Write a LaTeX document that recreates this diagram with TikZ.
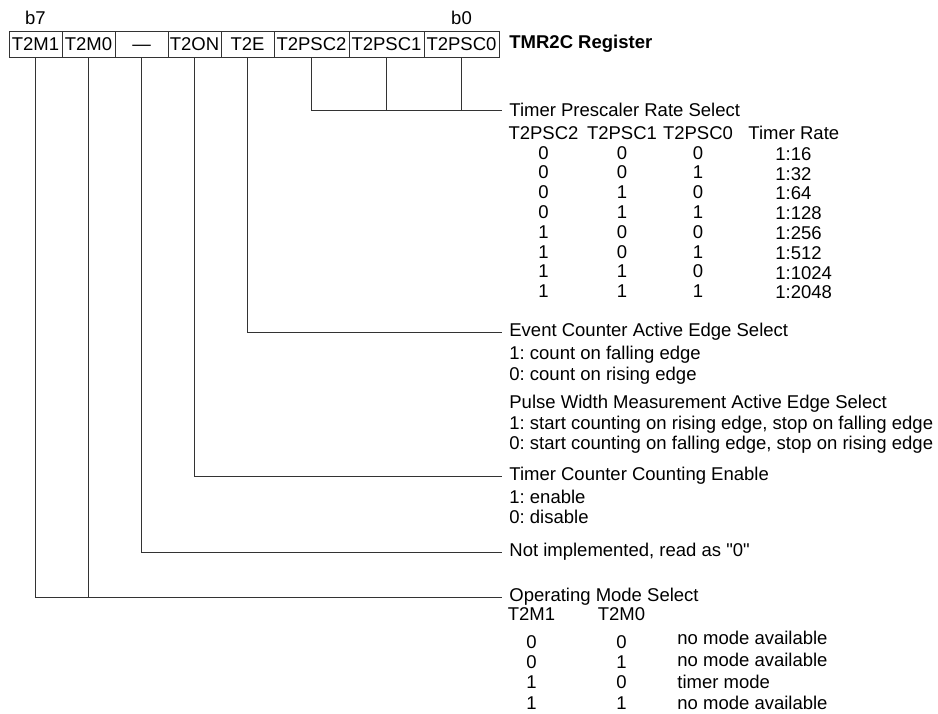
\documentclass[tikz,border=0pt]{standalone}
\usepackage{fontspec}
\setmainfont{Liberation Sans}
\usetikzlibrary{positioning}
\definecolor{regline}{HTML}{333333}
\frenchspacing
\newcommand\dquote{\XeTeXglyph\XeTeXcharglyph"22\relax}

\begin{document}
\begin{tikzpicture}[x=0.5pt,y=-0.5pt,
  bitbox/.style={draw=regline,line width=0.5pt,minimum height=13pt,inner sep=0,outer sep=0,
    text height=6.7pt,text depth=0pt,font=\fontsize{9.25}{10}\selectfont},
  narrow/.style={bitbox,minimum width=26.5pt},
  wide/.style={bitbox,minimum width=37.5pt},
  fieldhead/.style={anchor=west,inner xsep=3.5pt,inner ysep=0,font=\fontsize{9.25}{10}\selectfont},
  fieldtxt/.style={anchor=north west,inner sep=0,align=left},
  tabcol/.style={anchor=north,inner sep=0,align=center}]
  \useasboundingbox (0,0) rectangle (938,713);
  % register cells, b7 .. b0
  \node[narrow,anchor=north west] (m1) at (9,31) {T2M1};
  \node[narrow,right=0pt of m1] (m0) {T2M0};
  \node[narrow,right=0pt of m0] (nc) {---};
  \node[narrow,right=0pt of nc] (on) {T2ON};
  \node[narrow,right=0pt of on] (te) {T2E};
  \node[wide,right=0pt of te] (ps2) {T2PSC2};
  \node[wide,right=0pt of ps2] (ps1) {T2PSC1};
  \node[wide,right=0pt of ps1] (ps0) {T2PSC0};
  \node[anchor=south,inner sep=0,above=3.1pt of m1,font=\fontsize{9.25}{10}\selectfont] (lb7) {b7};
  \node[anchor=south,inner sep=0,above=3.1pt of ps0,font=\fontsize{9.25}{10}\selectfont] (lb0) {b0};
  \node[anchor=west,inner sep=0,right=5pt of ps0,font=\fontsize{9.25}{10}\selectfont\bfseries] (reg) {TMR2C Register};

  % field titles
  \node[fieldhead] (psel) at (502,110) {Timer Prescaler Rate Select};
  \node[fieldhead] (esel) at (502,332) {Event Counter Active Edge Select};
  \node[fieldhead] (cnt) at (502,476) {Timer Counter Counting Enable};
  \node[fieldhead] (nimp) at (502,552) {Not implemented, read as \dquote0\dquote};
  \node[fieldhead] (msel) at (502,597) {Operating Mode Select};

  % connectors
  \draw[regline] (ps2.south) |- (psel.west);
  \draw[regline] (ps1.south) -- (ps1.south |- psel.west);
  \draw[regline] (ps0.south) -- (ps0.south |- psel.west);
  \draw[regline] (te.south) |- (esel.west);
  \draw[regline] (on.south) |- (cnt.west);
  \draw[regline] (nc.south) |- (nimp.west);
  \draw[regline] (m1.south) |- (msel.west);
  \draw[regline] (m0.south) -- (m0.south |- msel.west);

  % prescaler table
  \begin{scope}[font=\fontsize{9.25}{9.9}\selectfont]
    \node[tabcol] (pc2) at (543.5,126) {T2PSC2\\0\\0\\0\\0\\1\\1\\1\\1};
    \node[tabcol] (pc1) at (622,126) {T2PSC1\\0\\0\\1\\1\\0\\0\\1\\1};
    \node[tabcol] (pc0) at (698,126) {T2PSC0\\0\\1\\0\\1\\0\\1\\0\\1};
    \node[fieldtxt] (rhead) at (748,126) {Timer Rate};
    \node[fieldtxt] (rates) at (775,147) {1:16\\1:32\\1:64\\1:128\\1:256\\1:512\\1:1024\\1:2048};
  \end{scope}

  % edge select and enable texts
  \node[fieldtxt,font=\fontsize{9.25}{10.25}\selectfont] (ebody) at (509,346)
    {1: count on falling edge\\0: count on rising edge};
  \node[fieldtxt,font=\fontsize{9.25}{10.1}\selectfont] (pbody) at (509,395)
    {Pulse Width Measurement Active Edge Select\\
     1: start counting on rising edge, stop on falling edge\\
     0: start counting on falling edge, stop on rising edge};
  \node[fieldtxt,font=\fontsize{9.25}{10}\selectfont] (cbody) at (509,490) {1: enable\\0: disable};

  % mode table
  \begin{scope}[font=\fontsize{9.25}{10.15}\selectfont]
    \node[tabcol] (mc1) at (531.5,607) {T2M1\\[3.85pt]0\\0\\1\\1};
    \node[tabcol] (mc0) at (621.5,607) {T2M0\\[3.85pt]0\\1\\0\\1};
  \end{scope}
  \node[fieldtxt,font=\fontsize{9.25}{10.8}\selectfont] (modes) at (677,631)
    {no mode available\\no mode available\\timer mode\\no mode available};
\end{tikzpicture}
\end{document}
